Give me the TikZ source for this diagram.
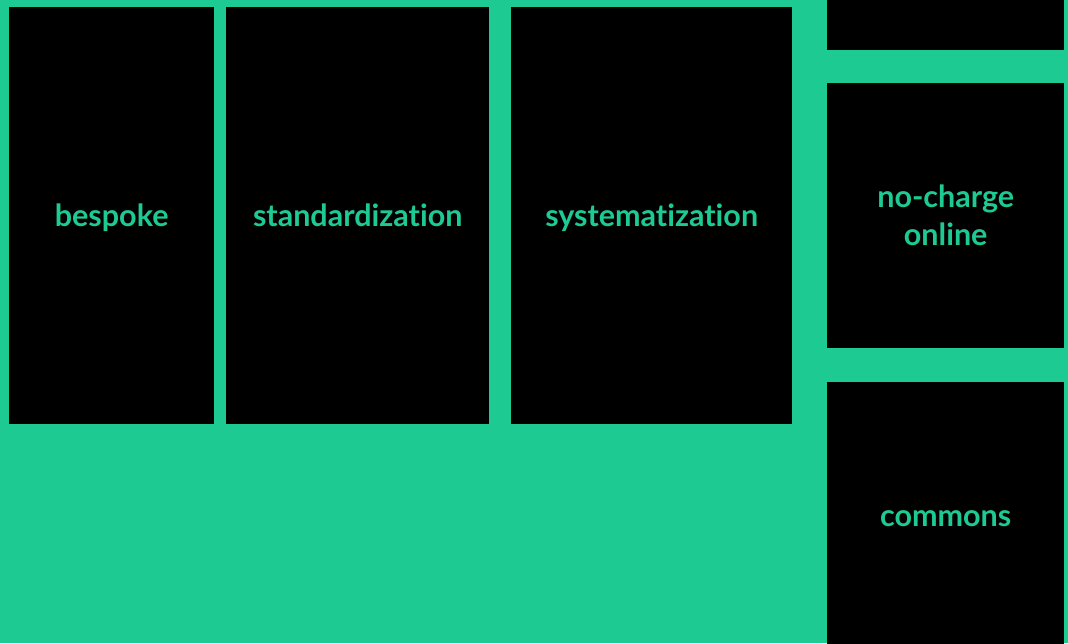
\documentclass[tikz,border=0pt]{standalone}
\usepackage{fontspec}
\setmainfont{Lato}[Ligatures=NoCommon]
\definecolor{mint}{HTML}{1DCB92}
\tikzset{tile/.style={fill=black, text=mint, inner sep=0pt, anchor=north west,
    align=center, text height=28pt, text depth=7pt,
    font=\bfseries\fontsize{30.5}{38}\selectfont}}

\begin{document}
\begin{tikzpicture}[x=1pt,y=-1pt]
\useasboundingbox (0,0) rectangle (1068,643);
\fill[mint] (0,0) rectangle (1068,643);
\clip (0,0) rectangle (1068,643);
% three tall tiles on the left
\node[tile, minimum width=205pt, minimum height=417pt] (bespoke) at (9,7) {bespoke};
\node[tile, minimum width=263pt, minimum height=417pt] (stand) at (226,7) {standardization};
\node[tile, minimum width=281pt, minimum height=417pt] (syst) at (511,7) {systematization};
% right column
\node[tile, minimum width=237pt, minimum height=60pt] (top) at (827,-10) {};
\node[tile, minimum width=237pt, minimum height=265pt, text height={}, text depth={}]
  (online) at (827,83) {no-charge\\online};
\node[tile, minimum width=237pt, minimum height=268pt] (commons) at (827,382) {commons};
\end{tikzpicture}
\end{document}
